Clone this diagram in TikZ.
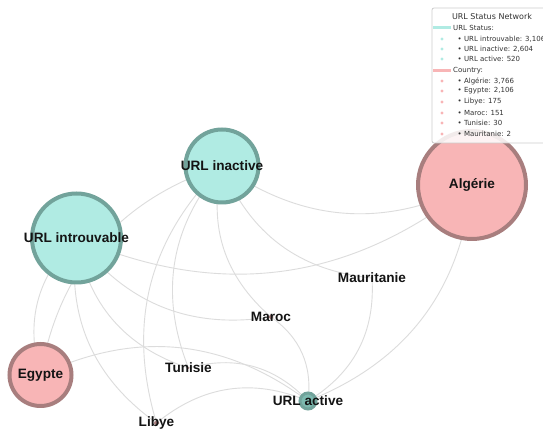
\documentclass[tikz,border=0pt]{standalone}
\usepackage{fontspec}
\setmainfont{Liberation Sans}
\newfontfamily\legfont{DejaVu Sans}
\usetikzlibrary{backgrounds}
\definecolor{stfill}{HTML}{B0EBE3}
\definecolor{stdraw}{HTML}{72A39B}
\definecolor{ctfill}{HTML}{F8B5B6}
\definecolor{ctdraw}{HTML}{A87E7E}
\definecolor{edgecol}{HTML}{DCDCDC}
\definecolor{actfill}{HTML}{7DBAB0}
\begin{document}
\begin{tikzpicture}[x=1pt,y=1pt,
  status/.style={circle, fill=stfill, draw=stdraw, line width=4pt, inner sep=0pt, outer sep=0pt},
  country/.style={circle, fill=ctfill, draw=ctdraw, line width=4pt, inner sep=0pt, outer sep=0pt},
  lbl/.style={font=\fontsize{13.6}{16}\selectfont\bfseries, text=black!92, inner sep=0pt},
  edge/.style={draw=edgecol, line width=0.9pt, bend right=31},
  legtxt/.style={font=\legfont\fontsize{7}{8}\selectfont, text=black!80, anchor=west, inner sep=0pt},
  legtitle/.style={font=\legfont\fontsize{8}{9}\selectfont, text=black!80, inner sep=0pt},
]
\useasboundingbox (0,0) rectangle (543,430);
\clip (0,0) rectangle (543,430);

% status nodes
\node[status, minimum size=89pt, label={[lbl]center:URL introuvable}] (intr) at (76.5,192) {};
\node[status, minimum size=73pt, label={[lbl]center:URL inactive}] (inac) at (222,264) {};
\node[status, fill=actfill, minimum size=16pt, line width=3pt, label={[lbl]center:URL active}] (act) at (308,29) {};

% country nodes
\node[country, minimum size=108pt, label={[lbl]center:Algérie}] (alg) at (472,245) {};
\node[country, minimum size=62pt, label={[lbl]center:Egypte}] (egy) at (40.5,55) {};
\node[country, minimum size=3.5pt, line width=1.5pt, label={[lbl]center:Libye}] (lib) at (156.5,7) {};
\node[country, minimum size=3pt, line width=1.5pt, label={[lbl]center:Maroc}] (mar) at (271,113) {};
\node[country, minimum size=1pt, line width=0.6pt, label={[lbl]center:Tunisie}] (tun) at (188.5,62) {};
\node[country, minimum size=0.4pt, line width=0.3pt, label={[lbl]center:Mauritanie}] (mau) at (372,152) {};

% edges
\begin{pgfonlayer}{background}
\fill[white] (0,0) rectangle (543,430);
\foreach \s/\c in {intr/egy, intr/lib, intr/tun, intr/mar, intr/alg,
                   inac/egy, inac/lib, inac/tun, inac/mar, inac/alg, inac/mau,
                   act/egy, act/lib, act/tun, act/mar, act/alg, act/mau}
  \draw[edge] (\s.center) to (\c.center);
\end{pgfonlayer}

% legend
\draw[draw=black!20, fill=white, fill opacity=0.85, rounded corners=2pt, line width=0.8pt] (432,287) rectangle (553,422);
\node[legtitle] (ltitle) at (492,413) {URL Status Network};
\draw[stfill, line width=3pt] (433,402) -- (451,402);
\node[legtxt] (lst) at (453,402) {URL Status:};
\foreach \yy/\t in {391/URL introuvable: 3{,}106, 381/URL inactive: 2{,}604, 371/URL active: 520}{
  \fill[stfill] (442,\yy) circle (1.6);
  \node[legtxt] at (457.5,\yy) {• \t};
}
\draw[ctfill, line width=3pt] (433,359) -- (451,359);
\node[legtxt] (lct) at (453,359) {Country:};
\foreach \yy/\t in {349/Algérie: 3{,}766, 339/Egypte: 2{,}106, 328/Libye: 175, 317/Maroc: 151, 307/Tunisie: 30, 296/Mauritanie: 2}{
  \fill[ctfill] (442,\yy) circle (1.6);
  \node[legtxt] at (457.5,\yy) {• \t};
}
\end{tikzpicture}
\end{document}
